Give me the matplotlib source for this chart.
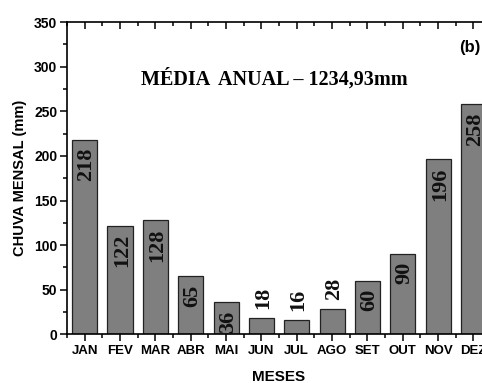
import matplotlib
matplotlib.use("Agg")
import matplotlib.pyplot as plt
from matplotlib.ticker import MultipleLocator, FixedLocator

# Chuva mensal média (mm)
meses = ["JAN", "FEV", "MAR", "ABR", "MAI", "JUN", "JUL", "AGO", "SET", "OUT", "NOV", "DEZ"]
chuva = [218, 122, 128, 65, 36, 18, 16, 28, 60, 90, 196, 258]
titulo = "MÉDIA  ANUAL – 1234,93mm"

sans = "Liberation Sans"
serif = "Liberation Serif"

fig = plt.figure(figsize=(4.82, 3.83), dpi=100)
ax = fig.add_axes([0.139, 0.127, 0.88, 0.8154])

x = list(range(1, len(meses) + 1))
ax.bar(x, chuva, width=0.71, color="#7f7f7f", edgecolor="#222222", linewidth=0.9, zorder=2)

# rótulos com o valor de cada mês
for xi, v in zip(x, chuva):
    if v < 30:
        ax.text(xi + 0.05, v + 10, str(v), rotation=90, ha="center", va="bottom",
                fontsize=16, fontweight="bold", family=serif, color="#111111")
    else:
        ax.text(xi + 0.05, v - 9, str(v), rotation=90, ha="center", va="top",
                fontsize=16, fontweight="bold", family=serif, color="#111111")

ax.set_xlim(0.5, 12.5)
ax.set_ylim(0, 350)
ax.set_xticks(x)
ax.set_xticklabels(meses)
ax.xaxis.set_minor_locator(FixedLocator([i + 0.5 for i in range(0, 13)]))
ax.yaxis.set_major_locator(MultipleLocator(50))
ax.yaxis.set_minor_locator(MultipleLocator(25))

ax.tick_params(axis="x", which="both", top=True, direction="out", width=1.1)
ax.tick_params(axis="x", which="major", length=5, pad=3)
ax.tick_params(axis="x", which="minor", length=3)
ax.tick_params(axis="y", which="major", direction="out", length=5, width=1.1, pad=2)
ax.tick_params(axis="y", which="minor", direction="out", length=3, width=1.1)

# ticks do eixo superior voltados para dentro
for t in ax.xaxis.get_major_ticks() + ax.xaxis.get_minor_ticks():
    t.tick2line.set_marker(3)

for lab in ax.get_xticklabels():
    lab.set_family(sans)
    lab.set_fontweight("bold")
    lab.set_fontsize(9.5)
for lab in ax.get_yticklabels():
    lab.set_family(sans)
    lab.set_fontweight("bold")
    lab.set_fontsize(10)

for s in ax.spines.values():
    s.set_linewidth(1.2)

ax.set_ylabel("CHUVA MENSAL (mm)", family=sans, fontweight="bold", fontsize=10.5, labelpad=5)
ax.set_xlabel("MESES", family=sans, fontweight="bold", fontsize=11, labelpad=8)
ax.xaxis.set_label_coords((278 - 67) / 424, -0.115)

fig.text(0.57, 0.793, titulo, ha="center", va="center", family=serif,
         fontweight="bold", fontsize=14.5)
fig.text(0.997, 0.877, "(b)", ha="right", va="center", family=sans,
         fontweight="bold", fontsize=12)

fig.savefig("out.png", dpi=100, facecolor="white")
